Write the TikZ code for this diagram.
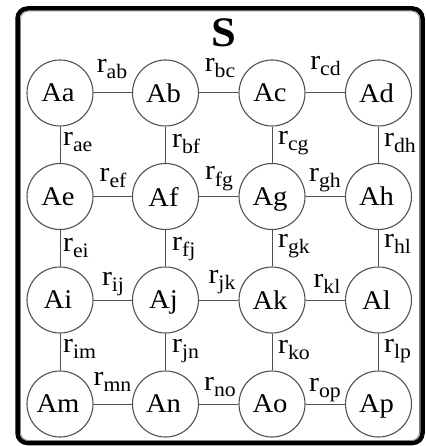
\documentclass[tikz,border=0pt]{standalone}
\usepackage{fontspec}
\setmainfont{Liberation Serif}[FakeStretch=1.06]
\definecolor{linegray}{RGB}{80,80,80}
\newcommand\rsub[1]{r\raisebox{-6pt}{\fontsize{20.5}{20.5}\selectfont #1}}
\begin{document}
\begin{tikzpicture}[x=1pt,y=-1pt,
  agent/.style={circle,draw=linegray,line width=1.1pt,minimum size=66pt,inner sep=0pt,
    font=\fontsize{27}{27}\selectfont,text depth=0pt},
  link/.style={draw=linegray,line width=1pt},
  hlab/.style={anchor=base,inner sep=0pt,font=\fontsize{28}{28}\selectfont},
  vlab/.style={anchor=base west,inner sep=0pt,font=\fontsize{28}{28}\selectfont},
  frame/.style={line width=4.5pt,rounded corners=10pt},
  innerframe/.style={draw=linegray!70,line width=0.8pt,rounded corners=8pt}]
\useasboundingbox (0,0) rectangle (425,446);
\draw[frame] (17.5,8.5) rectangle (422.5,443);
\draw[innerframe] (20.5,11) rectangle (419.5,440.5);
\node[font=\fontsize{42}{42}\selectfont\bfseries,anchor=base,inner sep=0pt] (title) at (224,47) {S};
% agents
\node[agent] (a) at (60,93)    {\hspace*{-4pt}Aa};
\node[agent] (b) at (165.5,93) {\hspace*{-4pt}Ab};
\node[agent] (c) at (272,93)   {\hspace*{-4pt}Ac};
\node[agent] (d) at (378.5,93) {\hspace*{-4pt}Ad};
\node[agent] (e) at (60,196.5)    {\hspace*{-4pt}Ae};
\node[agent] (f) at (165.5,196.5) {\hspace*{-4pt}Af};
\node[agent] (g) at (272,196.5)   {\hspace*{-4pt}Ag};
\node[agent] (h) at (378.5,196.5) {\hspace*{-4pt}Ah};
\node[agent] (i) at (60,300)    {\hspace*{-4pt}Ai};
\node[agent] (j) at (165.5,300) {\hspace*{-4pt}Aj};
\node[agent] (k) at (272,300)   {\hspace*{-4pt}Ak};
\node[agent] (l) at (378.5,300) {\hspace*{-4pt}Al};
\node[agent] (m) at (60,404)    {\hspace*{-4pt}Am};
\node[agent] (n) at (165.5,404) {\hspace*{-4pt}An};
\node[agent] (o) at (272,404)   {\hspace*{-4pt}Ao};
\node[agent] (p) at (378.5,404) {\hspace*{-4pt}Ap};
% horizontal links
\draw[link] (a) -- (b); \draw[link] (b) -- (c); \draw[link] (c) -- (d);
\draw[link] (e) -- (f); \draw[link] (f) -- (g); \draw[link] (g) -- (h);
\draw[link] (i) -- (j); \draw[link] (j) -- (k); \draw[link] (k) -- (l);
\draw[link] (m) -- (n); \draw[link] (n) -- (o); \draw[link] (o) -- (p);
% vertical links
\draw[link] (a) -- (e); \draw[link] (b) -- (f); \draw[link] (c) -- (g); \draw[link] (d) -- (h);
\draw[link] (e) -- (i); \draw[link] (f) -- (j); \draw[link] (g) -- (k); \draw[link] (h) -- (l);
\draw[link] (i) -- (m); \draw[link] (j) -- (n); \draw[link] (k) -- (o); \draw[link] (l) -- (p);
% horizontal labels
\node[hlab] (lab) at (112,73)  {\rsub{ab}};
\node[hlab] (lbc) at (220,72)  {\rsub{bc}};
\node[hlab] (lcd) at (325.5,70) {\rsub{cd}};
\node[hlab] (lef) at (113,182) {\rsub{ef}};
\node[hlab] (lfg) at (219,180) {\rsub{fg}};
\node[hlab] (lgh) at (325,182) {\rsub{gh}};
\node[hlab] (lij) at (113,285) {\rsub{ij}};
\node[hlab] (ljk) at (222,283) {\rsub{jk}};
\node[hlab] (lkl) at (327,287) {\rsub{kl}};
\node[hlab] (lmn) at (112.5,385) {\rsub{mn}};
\node[hlab] (lno) at (220,390) {\rsub{no}};
\node[hlab] (lop) at (325,391) {\rsub{op}};
% vertical labels
\node[vlab] (lae) at (63,146)  {\rsub{ae}};
\node[vlab] (lbf) at (172,148) {\rsub{bf}};
\node[vlab] (lcg) at (278,145) {\rsub{cg}};
\node[vlab] (ldh) at (384,147) {\rsub{dh}};
\node[vlab] (lei) at (63,251)  {\rsub{ei}};
\node[vlab] (lfj) at (172,250) {\rsub{fj}};
\node[vlab] (lgk) at (278,247) {\rsub{gk}};
\node[vlab] (lhl) at (384,247) {\rsub{hl}};
\node[vlab] (lim) at (63,352)  {\rsub{im}};
\node[vlab] (ljn) at (172,352) {\rsub{jn}};
\node[vlab] (lko) at (278,353) {\rsub{ko}};
\node[vlab] (llp) at (384,352) {\rsub{lp}};
\end{tikzpicture}
\end{document}
